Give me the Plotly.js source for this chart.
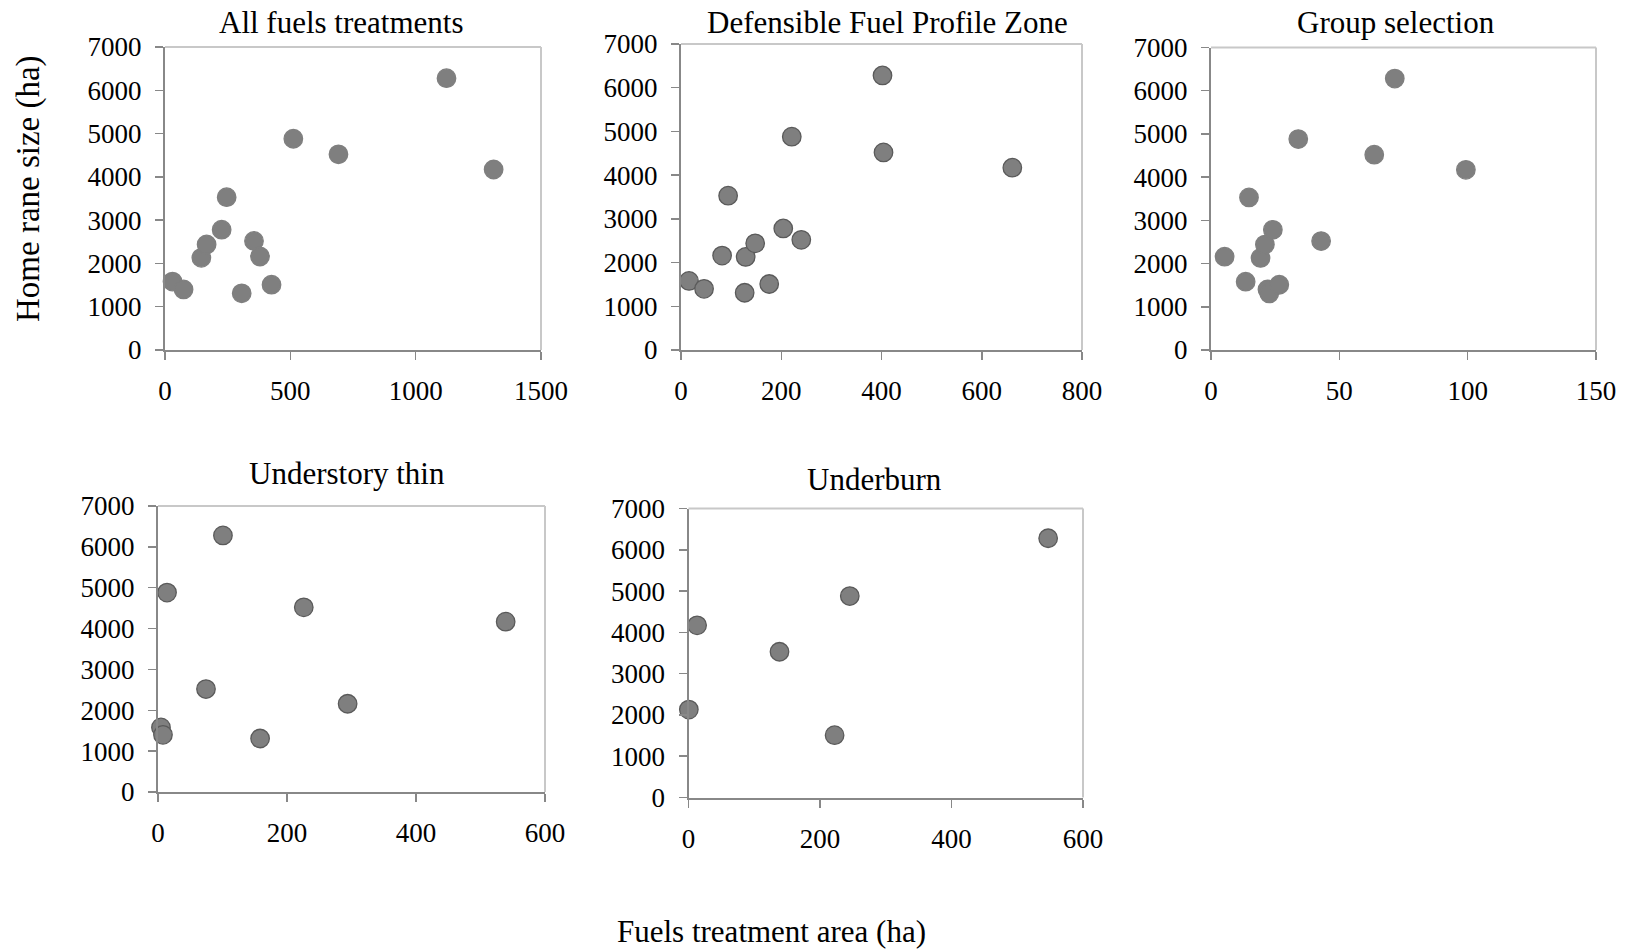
<!DOCTYPE html>
<html>
<head>
<meta charset="utf-8">
<script src="https://cdn.plot.ly/plotly-3.0.1.min.js"></script>
<style>
  html, body { margin: 0; padding: 0; background: #ffffff; }
  #chart { width: 1631px; height: 949px; }
</style>
</head>
<body>
<div id="chart"></div>
<script>
// ---- Data ----
const panelTitles = ["All fuels treatments", "Defensible Fuel Profile Zone", "Group selection", "Understory thin", "Underburn"];
const yAxisTitle = "Home rane size (ha)";
const xAxisTitle = "Fuels treatment area (ha)";

const allFuelsX = [30, 74, 145, 166, 226, 246, 306, 355, 379, 425, 512, 692, 1123, 1311];
const allFuelsY = [1580, 1400, 2130, 2440, 2780, 3530, 1310, 2520, 2160, 1510, 4880, 4520, 6280, 4170];

const dfpzX = [16, 46, 129, 148, 204, 94, 127, 240, 82, 176, 221, 404, 402, 661];
const dfpzY = [1580, 1400, 2130, 2440, 2780, 3530, 1310, 2520, 2160, 1510, 4880, 4520, 6280, 4170];

const groupX = [13.5, 22, 19.3, 21, 24.1, 14.8, 22.7, 42.9, 5.3, 26.6, 34, 63.6, 71.6, 99.3];
const groupY = [1580, 1400, 2130, 2440, 2780, 3530, 1310, 2520, 2160, 1510, 4880, 4520, 6280, 4170];

const understoryX = [4.6, 7.7, 14, 74.4, 100.7, 158.3, 226, 294, 539];
const understoryY = [1580, 1400, 4880, 2520, 6280, 1310, 4520, 2160, 4170];

const underburnX = [0.5, 13.1, 138.4, 222.2, 245.3, 547];
const underburnY = [2130, 4170, 3530, 1510, 4880, 6280];

const xRanges = [[0, 1500], [0, 800], [0, 150], [0, 600], [0, 600]];
const xSteps = [500, 200, 50, 200, 200];
const yRange = [0, 7000];
const yStep = 1000;

// ---- Layout geometry (pixels) ----
const W = 1631, H = 949;
const boxes = [
  {l: 165, r: 541, t: 47, b: 350},
  {l: 681, r: 1082, t: 44, b: 350},
  {l: 1211, r: 1596, t: 47.5, b: 350},
  {l: 158, r: 545, t: 506, b: 792},
  {l: 688.5, r: 1083, t: 508.5, b: 797.5}
];
const titlePos = [[341.7, 22], [887.7, 22], [1395.5, 22.5], [346.5, 473.5], [874.4, 479]];
const outlineColors = ["#7f7f7f", "#5a5a5a", "#7f7f7f", "#5a5a5a", "#5a5a5a"];

const seriesX = [allFuelsX, dfpzX, groupX, understoryX, underburnX];
const seriesY = [allFuelsY, dfpzY, groupY, understoryY, underburnY];

const FONT = "Liberation Serif, Times New Roman, serif";
const traces = [];
const layout = {
  width: W, height: H,
  margin: {l: 0, r: 0, t: 0, b: 0},
  paper_bgcolor: "#ffffff",
  plot_bgcolor: "#ffffff",
  showlegend: false,
  font: {family: FONT, color: "#000000", size: 26},
  annotations: [],
  shapes: []
};

for (let i = 0; i < 5; i++) {
  const n = i === 0 ? "" : String(i + 1);
  const b = boxes[i];
  traces.push({
    type: "scatter", mode: "markers",
    x: seriesX[i], y: seriesY[i],
    xaxis: "x" + n, yaxis: "y" + n,
    cliponaxis: false,
    hoverinfo: "skip",
    marker: {size: 18.5, color: "#7f7f7f", line: {color: outlineColors[i], width: 1.3}}
  });
  const axCommon = {
    showgrid: false, zeroline: false,
    showline: true, linecolor: "#888888", linewidth: 2,
    ticks: "outside", ticklen: 8, tickwidth: 1.5, tickcolor: "#888888",
    tickfont: {family: FONT, size: 27, color: "#000000"},
    fixedrange: true
  };
  layout["xaxis" + n] = Object.assign({}, axCommon, {
    domain: [b.l / W, b.r / W],
    range: xRanges[i], tick0: 0, dtick: xSteps[i],
    anchor: "y" + n,
    ticklabelstandoff: 8
  });
  layout["yaxis" + n] = Object.assign({}, axCommon, {
    domain: [1 - b.b / H, 1 - b.t / H],
    range: yRange, tick0: 0, dtick: yStep,
    anchor: "x" + n,
    ticklabelstandoff: 8
  });
  // light top and right border
  const xr = "x" + n + " domain", yr = "y" + n + " domain";
  layout.shapes.push({type: "line", xref: xr, yref: yr, x0: 0, x1: 1, y0: 1, y1: 1, line: {color: "#c8c8c8", width: 2}});
  layout.shapes.push({type: "line", xref: xr, yref: yr, x0: 1, x1: 1, y0: 0, y1: 1, line: {color: "#c8c8c8", width: 2}});
  // panel title
  layout.annotations.push({
    text: panelTitles[i], xref: "paper", yref: "paper",
    x: titlePos[i][0] / W, y: 1 - titlePos[i][1] / H,
    xanchor: "center", yanchor: "middle", showarrow: false,
    font: {family: FONT, size: 31, color: "#000000"}
  });
}

layout.annotations.push({
  text: yAxisTitle, xref: "paper", yref: "paper",
  x: 28 / W, y: 1 - 189 / H, textangle: -90,
  xanchor: "center", yanchor: "middle", showarrow: false,
  font: {family: FONT, size: 33, color: "#000000"}
});
layout.annotations.push({
  text: xAxisTitle, xref: "paper", yref: "paper",
  x: 771 / W, y: 1 - 931 / H,
  xanchor: "center", yanchor: "middle", showarrow: false,
  font: {family: FONT, size: 31, color: "#000000"}
});

Plotly.newPlot("chart", traces, layout, {displayModeBar: false, staticPlot: true});
</script>
</body>
</html>
